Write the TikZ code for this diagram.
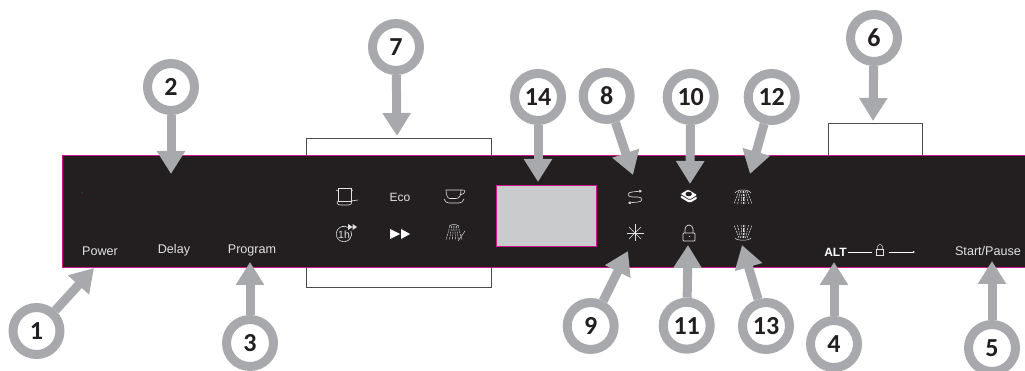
\documentclass[tikz,border=0pt]{standalone}
\usepackage{fontspec}
\setmainfont{Liberation Sans}
\newfontfamily\panelfont{Liberation Sans}
\newfontfamily\numfont{Carlito}
\usetikzlibrary{positioning,arrows.meta}
\definecolor{panelblack}{HTML}{231F20}
\definecolor{callgray}{HTML}{A7A9AC}
\definecolor{edgepink}{HTML}{D3128C}
\definecolor{labelgray}{HTML}{E2E2E2}
\tikzset{
  callout/.style={circle,draw=callgray,fill=white,line width=9pt,minimum size=47pt,inner sep=0pt,
    text=panelblack,font=\numfont\bfseries\fontsize{26}{26}\selectfont},
  pointer/.style={draw=callgray,line width=9pt,-{Triangle[length=23pt,width=27pt]}},
  bracket/.style={draw=black!70,line width=0.9pt},
  paneltext/.style={text=labelgray,inner sep=0pt,font=\panelfont\fontsize{12.6}{12.6}\selectfont},
  iconline/.style={draw=labelgray,line width=0.6pt}
}
\begin{document}
\begin{tikzpicture}[x=1pt,y=-1pt]
  \useasboundingbox (0,0) rectangle (1025,371);
  % panel
  \fill[panelblack] (62,155) rectangle (1030,267);
  \draw[edgepink,line width=0.9pt] (1030,155.3) -- (62.3,155.3) -- (62.3,267) -- (1030,267);
  \draw[edgepink,fill=callgray!60,line width=0.7pt] (496,185) rectangle (596,246);
  \fill[green!70!black] (82,193) circle (0.5pt);
  % brackets
  \draw[bracket] (306,155) -- (306,138) -- (491,138) -- (491,155);
  \draw[bracket] (306,267) -- (306,287) -- (491,287) -- (491,267);
  \draw[bracket] (828,155) -- (828,123) -- (922,123) -- (922,155);
  % panel texts
  \node[paneltext] (power) at (100,251) {Power};
  \node[paneltext] (delay) at (174,250) {Delay};
  \node[paneltext] (program) at (252,250) {Program};
  \node[paneltext,font=\panelfont\fontsize{12}{12}\selectfont] (eco) at (400,197) {Eco};
  \node[paneltext,text=white,font=\panelfont\bfseries\fontsize{12}{12}\selectfont] (alt) at (835.5,252) {ALT};
  \node[paneltext] (start) at (988,251) {Start/Pause};
  % alt line
  \draw[white,line width=0.9pt] (alt.east) ++(1,0) -- (872,252);
  \draw[white,line width=0.9pt,-{Latex[length=2pt,width=2pt]}] (889,252) -- (915,252);
  \begin{scope}[shift={(880,250)},iconline,line width=0.5pt]
    \draw (-3.5,-1) rectangle (3.5,5);
    \draw (-2.5,-1) -- (-2.5,-3) arc[start angle=180,end angle=360,radius=2.5] -- (2.5,-1);
  \end{scope}
  % program icons
  \begin{scope}[shift={(345,197)},iconline]
    \draw (-7,-9) rectangle (6,4);
    \draw (-9,-7) -- (-7,-6) (8,-7) -- (6,-6);
    \draw (6,4) -- (13,3);
    \draw (-8,4) .. controls (-8,7) and (-7,8) .. (-5,8) -- (4,8) .. controls (6,8) and (7,6) .. (7,4);
  \end{scope}
  \begin{scope}[shift={(454,196)},iconline]
    \draw (-8,-6) -- (8,-6) (-8,-6) .. controls (-8,0) and (-6,2.5) .. (-4,2.5) -- (2,2.5) .. controls (5,2.5) and (7,0) .. (7,-6);
    \draw (8,-6) .. controls (12,-7) and (12,-2) .. (6,-1);
    \draw (-10,3) .. controls (-9,6) and (-7,7) .. (-5,7) -- (5,7) .. controls (7,7) and (9,6) .. (10,3);
  \end{scope}
  \begin{scope}[shift={(344,234)},iconline]
    \draw (4,-6.5) arc[start angle=-58,end angle=-385,radius=7.7];
    \node[paneltext,font=\panelfont\fontsize{10.5}{10.5}\selectfont] (oneh) at (0,0.5) {1h};
    \fill[labelgray] (4,-10) -- (8.5,-7) -- (4,-4) -- cycle (8.5,-10) -- (13,-7) -- (8.5,-4) -- cycle;
  \end{scope}
  \fill[white] (390,229) -- (400,234) -- (390,239) -- cycle (401,229) -- (410,234) -- (401,239) -- cycle;
  \begin{scope}[shift={(454,233)},iconline,line width=0.45pt]
    \draw (-5,-7) .. controls (-2,-9) and (2,-9) .. (5,-7);
    \foreach \dx in {-8,-4.5,-1.5,1.5,4.5,8} {\draw[dash pattern=on 2pt off 0.8pt] (\dx*0.5,-7) -- (\dx,7);}
    \draw (11,-2) -- (4,8);
  \end{scope}
  % option icons
  \begin{scope}[shift={(635,197)},iconline]
    \draw[-{Latex[length=2.5pt,width=3.5pt]}] (-3,-5) -- (7,-6);
    \draw (-3,-5) .. controls (-8,-5) and (-8,0) .. (-3,0) -- (3,0) .. controls (8,0) and (8,5) .. (3,5);
    \draw[-{Latex[length=2.5pt,width=3.5pt]}] (3,5) -- (-7,6);
  \end{scope}
  \begin{scope}[shift={(635,233)},iconline]
    \foreach \ang in {0,45,...,315} {\draw (0,0) -- (\ang:8.5);}
  \end{scope}
  \begin{scope}[shift={(689,196)}]
    \fill[white,rounded corners=1.5pt] (-9.3,1) -- (-1,-4) -- (9,2) -- (0.7,7) -- cycle;
    \draw[panelblack,fill=white,line width=0.7pt,rounded corners=1.5pt] (-9.3,-2) -- (-1,-7) -- (9,-1) -- (0.7,4) -- cycle;
    \fill[panelblack] (-0.3,-2) circle[x radius=3.2pt,y radius=2.3pt];
  \end{scope}
  \begin{scope}[shift={(689,233)},iconline,line width=0.7pt]
    \draw[rounded corners=0.8pt] (-6,0) rectangle (6,8);
    \draw (-4,0) -- (-4,-4) arc[start angle=180,end angle=360,radius=4] -- (4,0);
    \draw (0,3) -- (0,4.5);
  \end{scope}
  \begin{scope}[shift={(743,197)},iconline,line width=0.5pt]
    \draw (-8,-4) .. controls (-6,-8) and (6,-8) .. (8,-4);
    \foreach \dx in {-9,-5.5,-2,0,2,5.5,9} {\draw[dash pattern=on 2pt off 0.8pt] (\dx*0.45,-6) -- (\dx,7);}
  \end{scope}
  \begin{scope}[shift={(743,233)},iconline,line width=0.5pt]
    \draw (-8,5) .. controls (-6,8) and (6,8) .. (8,5);
    \foreach \dx in {-9,-5.5,-2,0,2,5.5,9} {\draw[dash pattern=on 2pt off 0.8pt] (\dx*0.45,5) -- (\dx,-8);}
  \end{scope}
  % callouts
  \node[callout] (n1) at (36.5,331) {1};
  \node[callout] (n2) at (171,87) {2};
  \node[callout] (n3) at (250,343) {3};
  \node[callout] (n4) at (834,344) {4};
  \node[callout] (n5) at (992,348) {5};
  \node[callout] (n6) at (874,38) {6};
  \node[callout] (n7) at (396,47) {7};
  \node[callout] (n8) at (606.7,96) {8};
  \node[callout] (n9) at (590.7,326) {9};
  \node[callout] (n10) at (690.7,97) {10};
  \node[callout] (n11) at (686.7,325.7) {11};
  \node[callout] (n12) at (771.7,97) {12};
  \node[callout] (n13) at (766,326) {13};
  \node[callout] (n14) at (538,97) {14};
  \coordinate (t1) at (94,268);
  \coordinate (t2) at (171,174);
  \coordinate (t3) at (250,262);
  \coordinate (t4) at (834,262);
  \coordinate (t5) at (992,261);
  \coordinate (t6) at (873,121);
  \coordinate (t7) at (397,136);
  \coordinate (t8) at (633,175);
  \coordinate (t9) at (628,251);
  \coordinate (t10) at (690,184);
  \coordinate (t11) at (688,245);
  \coordinate (t12) at (750,174);
  \coordinate (t13) at (742,245);
  \coordinate (t14) at (538,182);
  \foreach \i in {1,...,14} {\draw[pointer] (n\i) -- (t\i);}
\end{tikzpicture}
\end{document}
